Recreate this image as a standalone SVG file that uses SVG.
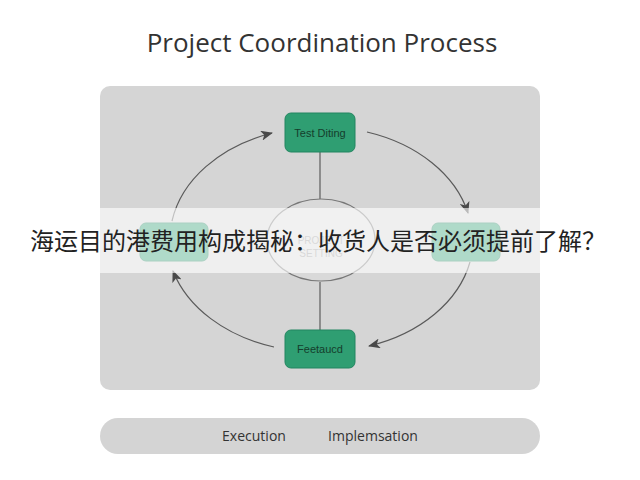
<svg xmlns="http://www.w3.org/2000/svg" width="640" height="480" viewBox="0 0 640 480">
<defs>
<marker id="arr" viewBox="0 0 12 10" refX="11" refY="5" markerWidth="12" markerHeight="10" markerUnits="userSpaceOnUse" orient="auto">
<path d="M0,0 L12,5 L0,10 L3,5 Z" fill="#4a4a4a"/>
</marker>
<style>
.title{font-family:"Open Sans","Liberation Sans",sans-serif;font-size:26px;fill:#333}
.node{fill:#2f9e72;stroke:#238560;stroke-width:1}
.nlabel{font-family:"Liberation Sans",Arial,sans-serif;font-size:11px;fill:#153d2c;text-anchor:middle}
.conn{fill:none;stroke:#5a5a5a;stroke-width:1.2}
.line{fill:none;stroke:#666;stroke-width:1.3}
.foot{font-family:"Open Sans","Liberation Sans",sans-serif;font-size:14px;fill:#333;text-anchor:middle}
.center{font-family:"Liberation Sans",Arial,sans-serif;font-size:10px;fill:#9a9a9a;text-anchor:middle}
.cn{font-family:"Noto Sans CJK SC","Noto Sans",sans-serif;font-size:24px;fill:#222;text-anchor:middle}
</style>
</defs>
<rect width="640" height="480" fill="#ffffff"/>
<text class="title" x="322" y="52" text-anchor="middle">Project Coordination Process</text>
<rect id="panel" x="100" y="86" width="440" height="304" rx="10" fill="#d5d5d5"/>
<g id="connectors">
<line class="line" x1="320" y1="152" x2="320" y2="199"/>
<line class="line" x1="320" y1="282" x2="320" y2="330"/>
<path class="conn" d="M172,221 A150,113 0 0 1 272,133" marker-end="url(#arr)"/>
<path class="conn" d="M367,132 A150,113 0 0 1 468,213" marker-end="url(#arr)"/>
<path class="conn" d="M470,262 A150,113 0 0 1 369,346" marker-end="url(#arr)"/>
<path class="conn" d="M274,347 A150,113 0 0 1 173,271" marker-end="url(#arr)"/>
</g>
<g id="center">
<ellipse cx="321" cy="240" rx="54" ry="41" fill="#d9d9d9" stroke="#777" stroke-width="1.2"/>
<text class="center" x="321" y="244">PROJECT</text>
<text class="center" x="321" y="257">SETTING</text>
</g>
<g id="node-top">
<rect class="node" x="285" y="113" width="70" height="39" rx="6"/>
<text class="nlabel" x="320" y="137">Test Diting</text>
</g>
<g id="node-left">
<rect class="node" x="140" y="223" width="68" height="38" rx="6"/>
</g>
<g id="node-right">
<rect class="node" x="432" y="223" width="68" height="38" rx="6"/>
</g>
<g id="node-bottom">
<rect class="node" x="285" y="330" width="70" height="38" rx="6"/>
<text class="nlabel" x="320" y="353">Feetaucd</text>
</g>
<rect id="band" x="0" y="208" width="640" height="65" fill="#ffffff" fill-opacity="0.62"/>
<text class="cn" x="318" y="250">海运目的港费用构成揭秘：收货人是否必须提前了解？</text>
<g id="footer">
<rect x="100" y="418" width="440" height="36" rx="18" fill="#d4d4d4"/>
<text class="foot" x="254" y="441">Execution</text>
<text class="foot" x="373" y="441">Implemsation</text>
</g>
</svg>
